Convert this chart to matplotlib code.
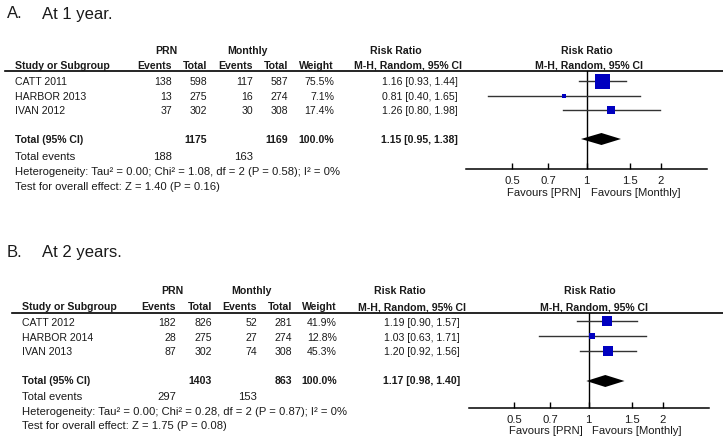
import numpy as np
import matplotlib
matplotlib.use("Agg")
import matplotlib.pyplot as plt

plt.rcParams['font.family'] = ['Liberation Sans', 'DejaVu Sans']

W, H = 723, 444

# ---------------- data ----------------
studies_a = ['CATT 2011', 'HARBOR 2013', 'IVAN 2012']
prn_events_a = [138, 13, 37]
prn_total_a = [598, 275, 302]
mon_events_a = [117, 16, 30]
mon_total_a = [587, 274, 308]
weight_a = [75.5, 7.1, 17.4]
rr_a = [1.16, 0.81, 1.26]
lo_a = [0.93, 0.40, 0.80]
hi_a = [1.44, 1.65, 1.98]
pooled_a = (1.15, 0.95, 1.38)
tot_prn_a, tot_mon_a = 1175, 1169
ev_prn_a, ev_mon_a = 188, 163
het_a = 'Heterogeneity: Tau² = 0.00; Chi² = 1.08, df = 2 (P = 0.58); I² = 0%'
test_a = 'Test for overall effect: Z = 1.40 (P = 0.16)'

studies_b = ['CATT 2012', 'HARBOR 2014', 'IVAN 2013']
prn_events_b = [182, 28, 87]
prn_total_b = [826, 275, 302]
mon_events_b = [52, 27, 74]
mon_total_b = [281, 274, 308]
weight_b = [41.9, 12.8, 45.3]
rr_b = [1.19, 1.03, 1.20]
lo_b = [0.90, 0.63, 0.92]
hi_b = [1.57, 1.71, 1.56]
pooled_b = (1.17, 0.98, 1.40)
tot_prn_b, tot_mon_b = 1403, 863
ev_prn_b, ev_mon_b = 297, 153
het_b = 'Heterogeneity: Tau² = 0.00; Chi² = 0.28, df = 2 (P = 0.87); I² = 0%'
test_b = 'Test for overall effect: Z = 1.75 (P = 0.08)'

tick_vals = [0.5, 0.7, 1, 1.5, 2]
tick_labels = ['0.5', '0.7', '1', '1.5', '2']

# ---------------- figure ----------------
fig = plt.figure(figsize=(W / 100, H / 100), dpi=100)
fig.patch.set_facecolor('white')
ax0 = fig.add_axes([0, 0, 1, 1])
ax0.set_xlim(0, W)
ax0.set_ylim(H, 0)
ax0.axis('off')

TXT = '#1a1a1a'
FS = 7.6
FS2 = 8.1
BLUE = '#0000c0'


def draw_panel(L, d):
    # title
    ax0.text(7, L['title'], L['letter'], fontsize=12, va='center', ha='left', color=TXT)
    ax0.text(42, L['title'], L['title_text'], fontsize=12, va='center', ha='left', color=TXT)
    c = L['cols']
    # group header
    ax0.text(L['prn_c'], L['h1'], 'PRN', fontsize=FS, weight='bold', ha='center', va='center', color=TXT)
    ax0.text(L['mon_c'], L['h1'], 'Monthly', fontsize=FS, weight='bold', ha='center', va='center', color=TXT)
    ax0.text(L['rr_c'], L['h1'], 'Risk Ratio', fontsize=FS, weight='bold', ha='center', va='center', color=TXT)
    ax0.text(L['fp_c1'], L['h1'], 'Risk Ratio', fontsize=FS, weight='bold', ha='center', va='center', color=TXT)
    ax0.text(L['left'], L['h2'], 'Study or Subgroup', fontsize=FS, weight='bold', ha='left', va='center', color=TXT)
    for x, s in zip(c, ['Events', 'Total', 'Events', 'Total', 'Weight']):
        ax0.text(x, L['h2'], s, fontsize=FS, weight='bold', ha='right', va='center', color=TXT)
    ax0.text(L['mh_r'], L['h2'], 'M-H, Random, 95% CI', fontsize=FS, weight='bold', ha='right', va='center', color=TXT)
    ax0.text(L['fp_c2'], L['h2'], 'M-H, Random, 95% CI', fontsize=FS, weight='bold', ha='center', va='center', color=TXT)
    ax0.plot([L['line_x0'], W], [L['line'], L['line']], color='black', lw=1.2)

    # study rows
    for i, s in enumerate(d['studies']):
        y = L['rows'][i]
        ax0.text(L['left'], y, s, fontsize=FS, ha='left', va='center', color=TXT)
        vals = [d['pe'][i], d['pt'][i], d['me'][i], d['mt'][i], f"{d['w'][i]:.1f}%"]
        for x, v in zip(c, vals):
            ax0.text(x, y, str(v), fontsize=FS, ha='right', va='center', color=TXT)
        ax0.text(L['val_r'], y, f"{d['rr'][i]:.2f} [{d['lo'][i]:.2f}, {d['hi'][i]:.2f}]",
                 fontsize=FS, ha='right', va='center', color=TXT)
    # total row
    yt = L['total']
    ax0.text(L['left'], yt, 'Total (95% CI)', fontsize=FS, weight='bold', ha='left', va='center', color=TXT)
    ax0.text(c[1], yt, str(d['tp']), fontsize=FS, weight='bold', ha='right', va='center', color=TXT)
    ax0.text(c[3], yt, str(d['tm']), fontsize=FS, weight='bold', ha='right', va='center', color=TXT)
    ax0.text(c[4], yt, '100.0%', fontsize=FS, weight='bold', ha='right', va='center', color=TXT)
    p = d['pooled']
    ax0.text(L['val_r'], yt, f"{p[0]:.2f} [{p[1]:.2f}, {p[2]:.2f}]", fontsize=FS, weight='bold',
             ha='right', va='center', color=TXT)
    ax0.text(L['left'], L['events'], 'Total events', fontsize=FS2, ha='left', va='center', color=TXT)
    ax0.text(c[0], L['events'], str(d['ep']), fontsize=FS2, ha='right', va='center', color=TXT)
    ax0.text(c[2], L['events'], str(d['em']), fontsize=FS2, ha='right', va='center', color=TXT)
    ax0.text(L['left'], L['het'], d['het'], fontsize=FS2, ha='left', va='center', color=TXT)
    ax0.text(L['left'], L['test'], d['test'], fontsize=FS2, ha='left', va='center', color=TXT)

    # forest axes (log scale), y in pixel rows
    x0, x1 = L['fx0'], L['fx1']
    ytop, ybot = L['line'], L['axis']
    fa = fig.add_axes([x0 / W, 1 - ybot / H, (x1 - x0) / W, (ybot - ytop) / H])
    fa.set_xscale('log')
    fa.set_xlim(1 / 3.07, 3.07)
    fa.set_ylim(ybot, ytop)
    fa.patch.set_alpha(0)
    for sp in ['top', 'left', 'right']:
        fa.spines[sp].set_visible(False)
    fa.spines['bottom'].set_linewidth(1.1)
    fa.set_yticks([])
    fa.set_xticks(tick_vals)
    fa.set_xticklabels(tick_labels)
    fa.minorticks_off()
    fa.tick_params(axis='x', direction='in', length=4, width=1.0, pad=5, labelsize=FS2, labelcolor=TXT)
    fa.axvline(1, color='black', lw=1.0, zorder=1)
    wmax = max(d['w'])
    for i in range(len(d['studies'])):
        y = L['mk'][i]
        fa.plot([d['lo'][i], d['hi'][i]], [y, y], color='#333333', lw=1.0, zorder=2)
        side = L['maxsq'] * np.sqrt(d['w'][i] / wmax)
        fa.plot(d['rr'][i], y, marker='s', ms=side * 0.72, color=BLUE, mec=BLUE, mew=0, zorder=3)
    yd = L['diamond']
    hh = 6
    fa.fill([p[1], p[0], p[2], p[0]], [yd, yd - hh, yd, yd + hh], color='black', zorder=3, lw=0)
    # favours labels
    ax0.text(L['fav_l'], L['fav'], 'Favours [PRN]', fontsize=FS2, ha='right', va='center', color=TXT)
    ax0.text(L['fav_r'], L['fav'], 'Favours [Monthly]', fontsize=FS2, ha='left', va='center', color=TXT)


LA = dict(letter='A.', title_text='At 1 year.', title=14,
          h1=51, h2=66, line=71, line_x0=5, left=15,
          cols=[172, 207, 253, 288, 334], prn_c=166, mon_c=248,
          rr_c=396, mh_r=462, val_r=458, fp_c1=587, fp_c2=589,
          rows=[82, 97, 111], mk=[81, 96, 110], total=140, diamond=139,
          events=157, het=172, test=187,
          fx0=466.5, fx1=706.5, axis=169, fav=193, fav_l=581, fav_r=591, maxsq=15)
DA = dict(studies=studies_a, pe=prn_events_a, pt=prn_total_a, me=mon_events_a, mt=mon_total_a,
          w=weight_a, rr=rr_a, lo=lo_a, hi=hi_a, pooled=pooled_a, tp=tot_prn_a, tm=tot_mon_a,
          ep=ev_prn_a, em=ev_mon_a, het=het_a, test=test_a)

LB = dict(letter='B.', title_text='At 2 years.', title=252,
          h1=291, h2=307, line=313, line_x0=12, left=22,
          cols=[176, 212, 257, 292, 337], prn_c=172, mon_c=252,
          rr_c=400, mh_r=466, val_r=460, fp_c1=590, fp_c2=594,
          rows=[323, 338, 352], mk=[321, 336, 351], total=381, diamond=381,
          events=397, het=412, test=426,
          fx0=468.5, fx1=708.5, axis=408, fav=431, fav_l=583, fav_r=592, maxsq=10)
DB = dict(studies=studies_b, pe=prn_events_b, pt=prn_total_b, me=mon_events_b, mt=mon_total_b,
          w=weight_b, rr=rr_b, lo=lo_b, hi=hi_b, pooled=pooled_b, tp=tot_prn_b, tm=tot_mon_b,
          ep=ev_prn_b, em=ev_mon_b, het=het_b, test=test_b)

draw_panel(LA, DA)
draw_panel(LB, DB)

fig.savefig('out.png', dpi=100, facecolor='white')
